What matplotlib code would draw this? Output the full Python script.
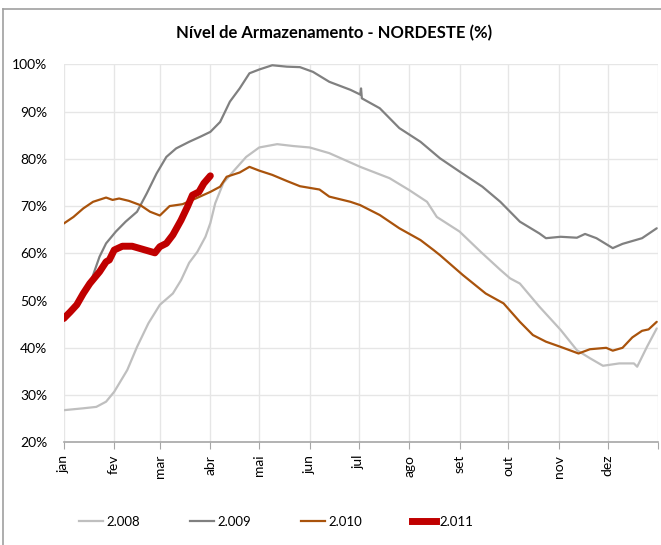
import numpy as np
import matplotlib
matplotlib.use("Agg")
import matplotlib.pyplot as plt
from matplotlib.lines import Line2D

plt.rcParams['font.family'] = ['Lato', 'DejaVu Sans']

# months (tick at start of each month, day of year)
month_days = [0, 31, 59, 90, 120, 151, 181, 212, 243, 273, 304, 334, 365]
month_labels = ['jan', 'fev', 'mar', 'abr', 'mai', 'jun', 'jul', 'ago', 'set', 'out', 'nov', 'dez', '']

# 2.008
d08 = [0, 12, 20, 26, 31, 39, 45, 52, 59, 67, 72, 77, 82, 87, 90, 93, 98, 104, 112, 120,
       131, 141, 151, 163, 182, 200, 212, 223, 229, 243, 256, 268, 274, 280, 292, 305, 315,
       323, 331, 341, 350, 352, 358, 364]
v08 = [26.8, 27.2, 27.5, 28.6, 30.7, 35.3, 40.2, 45.2, 49.1, 51.5, 54.3, 58.0, 60.3, 63.5,
       66.4, 70.6, 74.9, 77.3, 80.4, 82.4, 83.1, 82.7, 82.4, 81.2, 78.3, 75.9, 73.4, 70.9,
       67.7, 64.6, 60.3, 56.5, 54.7, 53.6, 48.7, 43.8, 39.5, 37.8, 36.2, 36.7, 36.7, 36.0,
       40.2, 44.1]

# 2.009
d09 = [0, 8, 16, 22, 26, 32, 38, 45, 51, 57, 63, 69, 77, 84, 90, 96, 102, 108, 114, 120,
       128, 137, 145, 153, 163, 176, 182, 182.5, 183, 194, 206, 219, 231, 243, 257, 268,
       280, 292, 296, 305, 315, 320, 327, 337, 343, 355, 364]
v09 = [45.8, 48.8, 53.4, 59.3, 62.1, 64.6, 66.7, 68.8, 72.7, 76.9, 80.4, 82.2, 83.6, 84.7,
       85.7, 87.8, 92.1, 94.9, 98.1, 98.9, 99.8, 99.5, 99.4, 98.4, 96.3, 94.6, 93.6, 94.9,
       92.8, 90.7, 86.5, 83.6, 80.1, 77.3, 74.1, 70.9, 66.7, 64.2, 63.2, 63.5, 63.3, 64.1,
       63.2, 61.1, 62.0, 63.2, 65.3]

# 2.010
d10 = [0, 6, 12, 18, 26, 30, 34, 40, 47, 53, 59, 65, 73, 81, 90, 96, 100, 108, 114, 120,
       128, 137, 145, 157, 163, 176, 182, 194, 206, 219, 227, 231, 245, 259, 270, 280, 288,
       296, 305, 316, 323, 333, 337, 343, 349, 355, 359, 364]
v10 = [66.3, 67.7, 69.5, 70.9, 71.8, 71.3, 71.6, 71.1, 70.2, 68.8, 68.0, 70.0, 70.4, 71.6,
       73.0, 74.1, 76.2, 77.1, 78.3, 77.5, 76.6, 75.3, 74.2, 73.5, 72.0, 70.9, 70.2, 68.1,
       65.3, 62.8, 60.7, 59.6, 55.4, 51.5, 49.4, 45.5, 42.7, 41.3, 40.2, 38.8, 39.7, 40.0,
       39.4, 40.0, 42.2, 43.6, 43.9, 45.5]

# 2.011
d11 = [0, 4, 8, 12, 16, 22, 26, 28, 31, 36, 42, 49, 56, 59, 63, 67, 72, 76, 79, 83, 86, 90]
v11 = [46.2, 47.6, 49.1, 51.5, 53.6, 56.1, 58.2, 58.6, 60.7, 61.5, 61.5, 60.8, 60.1, 61.4,
       62.1, 63.9, 67.0, 69.9, 72.3, 73.0, 74.8, 76.4]

series = [('2.008', d08, v08, '#bfbfbf', 1.6),
          ('2.009', d09, v09, '#808080', 1.6),
          ('2.010', d10, v10, '#a9530c', 1.6),
          ('2.011', d11, v11, '#c00000', 5.0)]

fig = plt.figure(figsize=(6.61, 5.45), dpi=100)
ax = fig.add_axes([0.0964, 0.1884, 0.8996, 0.6936])

for name, d, v, c, lw in series:
    ax.plot(d, v, color=c, lw=lw, label=name, solid_capstyle='round')

ax.set_xlim(0, 365)
ax.set_ylim(20, 100)
ax.set_yticks(range(20, 101, 10))
ax.set_yticklabels([f'{t}%' for t in range(20, 101, 10)], fontsize=10)
ax.set_xticks(month_days)
ax.set_xticklabels(month_labels, rotation=90, fontsize=10)
ax.grid(True, color='#e6e6e6', lw=1)
ax.set_axisbelow(True)
for s in ['top', 'right', 'left']:
    ax.spines[s].set_visible(False)
ax.spines['bottom'].set_color('#a6a6a6')
ax.spines['bottom'].set_linewidth(1.2)
ax.tick_params(axis='x', color='#a6a6a6', length=5, pad=4)
ax.tick_params(axis='y', length=0, pad=12)

fig.text(0.505, 0.94, 'Nível de Armazenamento - NORDESTE (%)', ha='center', va='center',
         fontsize=12, fontweight='bold')

handles = [Line2D([], [], color=c, lw=lw) for _, _, _, c, lw in series]
fig.legend(handles, [s[0] for s in series], loc='center', bbox_to_anchor=(0.418, 0.043),
           ncol=4, frameon=False, fontsize=9.5, handlelength=1.8, columnspacing=3.8,
           handletextpad=0.25)

# outer chart frame
fig.add_artist(Line2D([0.005, 0.005], [0, 0.984], color='#a0a0a0', lw=1.2))
fig.add_artist(Line2D([0.005, 1], [0.984, 0.984], color='#a0a0a0', lw=1.2))

fig.savefig('out.png', dpi=100)
